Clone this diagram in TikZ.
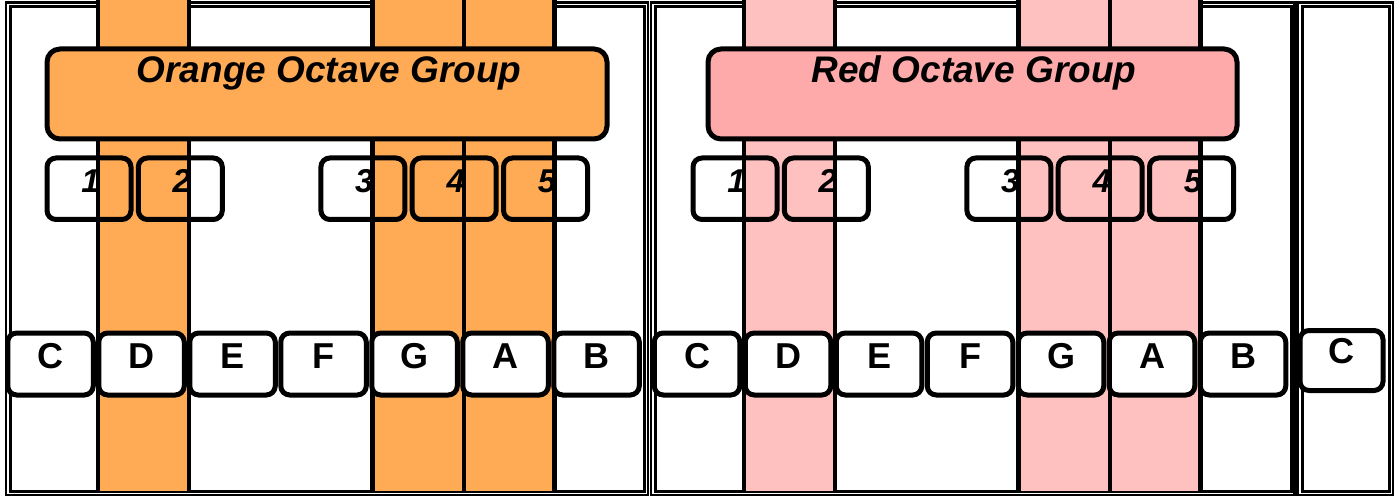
\documentclass[tikz,border=0pt]{standalone}
\usepackage{fontspec}
\setmainfont{Liberation Sans}
\definecolor{orangefill}{HTML}{FFAA55}
\definecolor{pinkbox}{HTML}{FFAAAA}
\definecolor{pinkcol}{HTML}{FFC0C0}
\begin{document}
\begin{tikzpicture}[x=1pt,y=-1pt,
  outerb/.style={draw=black,line width=2.2pt},
  innerb/.style={draw=black,line width=3pt},
  colline/.style={line width=4.2pt},
  numbox/.style={draw,line width=5pt,rounded corners=9pt,minimum width=84pt,minimum height=61.5pt,inner sep=0pt},
  notebox/.style={draw,fill=white,line width=5pt,rounded corners=9pt,minimum width=85.5pt,minimum height=62pt,inner sep=0pt},
  grpbox/.style={draw,line width=5pt,rounded corners=13pt,minimum height=90pt,inner sep=0pt},
  numtxt/.style={font=\fontsize{33}{33}\selectfont\bfseries\itshape,anchor=base,inner sep=0pt},
  notetxt/.style={font=\fontsize{36}{36}\selectfont\bfseries,anchor=base,inner sep=0pt},
  grptxt/.style={font=\fontsize{37}{37}\selectfont\bfseries\itshape,anchor=base,inner sep=0pt}
]
\useasboundingbox (0,0) rectangle (1398,497);
\fill[white] (0,0) rectangle (1398,497);
% panel borders
\draw[outerb] (6,2.5) rectangle (648,495);
\draw[innerb] (10.5,7) rectangle (644.5,491);
\draw[outerb] (651,2.5) rectangle (1294.5,495);
\draw[innerb] (655.5,7) rectangle (1291,491);
\draw[outerb] (1297.5,2.5) rectangle (1393,495);
\draw[innerb] (1302.5,7) rectangle (1389,491);
% column fills
\fill[orangefill] (98,0) rectangle (189,491);
\fill[orangefill] (372.5,0) rectangle (554.5,491);
\fill[pinkcol] (744,0) rectangle (835,491);
\fill[pinkcol] (1018.5,0) rectangle (1200.5,491);
% number boxes
\foreach \off/\p in {0/a,646/b}{
  \foreach \k/\x in {1/89,2/180.3,3/362.9,4/454.2,5/545.5}{
    \node[numbox] (num\p\k) at (\x+\off,188.75) {};
    \node[numtxt] (numt\p\k) at (\x+\off+1.5,193) {\k};
  }
}
% column lines
\foreach \x in {98,189,372.5,464,554.5,744,835,1018.5,1110,1200.5}{
  \draw[colline] (\x,0) -- (\x,493);
}
% group boxes
\node[grpbox,fill=orangefill,minimum width=560pt] (grpA) at (327,94) {};
\node[grptxt] (grpAt) at (329,83) {Orange Octave Group};
\node[grpbox,fill=pinkbox,minimum width=529pt] (grpB) at (972.5,94) {};
\node[grptxt] (grpBt) at (974,83) {Red Octave Group};
% note boxes
\foreach \off/\p in {50.5/a,697/b}{
  \foreach \i/\n in {0/C,1/D,2/E,3/F,4/G,5/A,6/B}{
    \node[notebox] (note\p\n) at (\off+91*\i,364) {};
    \node[notetxt] (notet\p\n) at (\off+91*\i,368) {\n};
  }
}
\node[notebox,minimum height=60pt,minimum width=83pt] (notecC) at (1341.5,360.5) {};
\node[notetxt] (notetcC) at (1341,363) {C};
\end{tikzpicture}
\end{document}
